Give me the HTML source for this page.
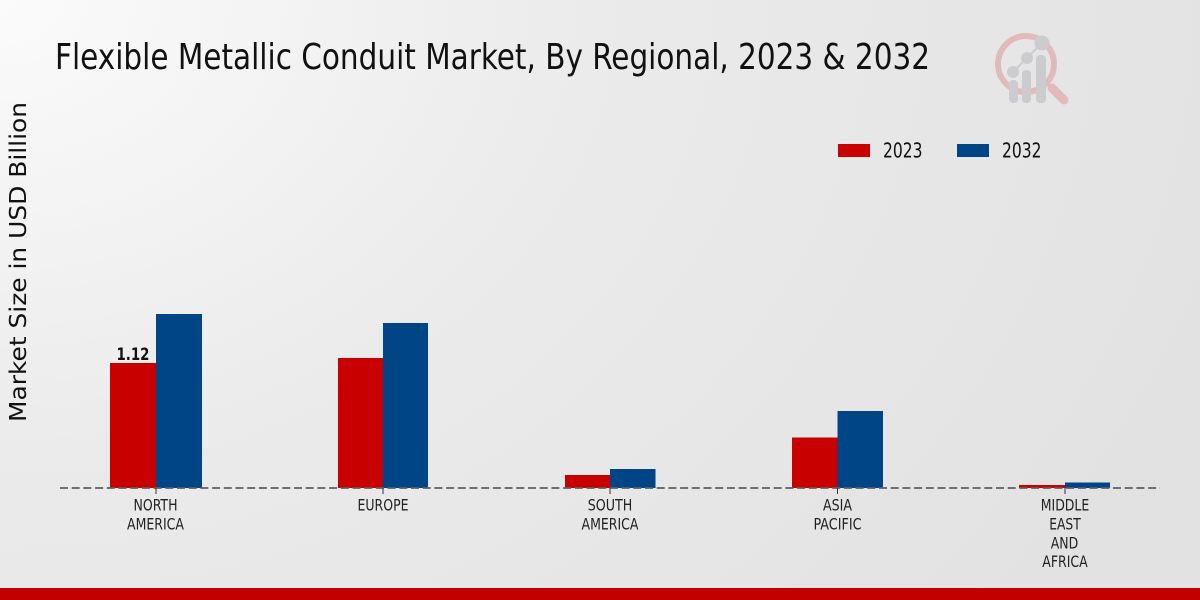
<!DOCTYPE html>
<html>
<head>
<meta charset="utf-8">
<style>
  html, body { margin: 0; padding: 0; }
  body { width: 1200px; height: 600px; overflow: hidden; }
  svg { display: block; }
  .c { font-family: "DejaVu Sans Condensed", "DejaVu Sans", "Liberation Sans", sans-serif; font-stretch: condensed; }
  .r { font-family: "DejaVu Sans", "Liberation Sans", sans-serif; }
</style>
</head>
<body>
<svg width="1200" height="600" viewBox="0 0 1200 600" xmlns="http://www.w3.org/2000/svg">
  <defs>
    <radialGradient id="bg" cx="0" cy="0" r="1" gradientUnits="userSpaceOnUse" gradientTransform="translate(0 0) scale(1300 1000)">
      <stop offset="0" stop-color="#fbfbfb"/>
      <stop offset="0.45" stop-color="#ebebeb"/>
      <stop offset="1" stop-color="#e2e2e2"/>
    </radialGradient>
  </defs>
  <rect x="0" y="0" width="1200" height="600" fill="url(#bg)"/>

  <!-- Title -->
  <text class="c" x="55" y="69" font-size="36" fill="#111" textLength="875" lengthAdjust="spacingAndGlyphs">Flexible Metallic Conduit Market, By Regional, 2023 &amp; 2032</text>

  <!-- Logo -->
  <g opacity="0.6">
    <circle cx="1026" cy="64" r="28" fill="none" stroke="#dfa0a0" stroke-width="6"/>
    <line x1="1052" y1="88" x2="1064" y2="100" stroke="#dfa0a0" stroke-width="9" stroke-linecap="round"/>
    <line x1="1013" y1="72" x2="1027" y2="58" stroke="#bdbdc2" stroke-width="2"/>
    <line x1="1027" y1="58" x2="1042" y2="43" stroke="#bdbdc2" stroke-width="2"/>
    <rect x="1009" y="80" width="9" height="23" rx="4" fill="#bdbdc2"/>
    <rect x="1022" y="70" width="9" height="33" rx="4" fill="#bdbdc2"/>
    <rect x="1036" y="55" width="10" height="48" rx="4" fill="#bdbdc2"/>
    <circle cx="1013" cy="72" r="6" fill="#bdbdc2"/>
    <circle cx="1027" cy="58" r="6" fill="#bdbdc2"/>
    <circle cx="1042" cy="43" r="7.5" fill="#bdbdc2"/>
  </g>

  <!-- Y axis label -->
  <text class="r" transform="translate(26 262) rotate(-90)" text-anchor="middle" font-size="23" fill="#111" textLength="320" lengthAdjust="spacingAndGlyphs">Market Size in USD Billion</text>

  <!-- Legend -->
  <rect x="838" y="144" width="32" height="13" fill="#c80000"/>
  <text class="c" x="883" y="157.5" font-size="20" fill="#111" textLength="39.5" lengthAdjust="spacingAndGlyphs">2023</text>
  <rect x="957" y="144" width="32" height="13" fill="#004586"/>
  <text class="c" x="1002" y="157.5" font-size="20" fill="#111" textLength="39.5" lengthAdjust="spacingAndGlyphs">2032</text>

  <!-- Bars -->
  <rect x="110" y="363" width="46" height="125" fill="#c80000"/>
  <rect x="156" y="314" width="46" height="174" fill="#004586"/>

  <rect x="338" y="358" width="45" height="130" fill="#c80000"/>
  <rect x="383" y="323" width="45" height="165" fill="#004586"/>

  <rect x="565" y="475" width="45" height="13" fill="#c80000"/>
  <rect x="610" y="469" width="45.5" height="19" fill="#004586"/>

  <rect x="792" y="437.5" width="45.5" height="50.5" fill="#c80000"/>
  <rect x="837.5" y="411" width="45.5" height="77" fill="#004586"/>

  <rect x="1019" y="485" width="46" height="3" fill="#c80000"/>
  <rect x="1065" y="482.5" width="45" height="5.5" fill="#004586"/>

  <!-- Data label -->
  <text class="c" x="133" y="360" font-size="17" font-weight="bold" fill="#111" text-anchor="middle" textLength="33" lengthAdjust="spacingAndGlyphs">1.12</text>

  <!-- Baseline -->
  <line x1="60" y1="488" x2="1160" y2="488" stroke="#5f5f5f" stroke-width="1.8" stroke-dasharray="8 3.7"/>

  <!-- Ticks -->
  <g stroke="#333" stroke-width="1">
    <line x1="156" y1="488" x2="156" y2="494"/>
    <line x1="383" y1="488" x2="383" y2="494"/>
    <line x1="610" y1="488" x2="610" y2="494"/>
    <line x1="837.5" y1="488" x2="837.5" y2="494"/>
    <line x1="1065" y1="488" x2="1065" y2="494"/>
  </g>

  <!-- X labels -->
  <g class="c" font-size="16" fill="#222" text-anchor="middle">
    <text x="155.5" y="510.5" textLength="44" lengthAdjust="spacingAndGlyphs">NORTH</text>
    <text x="155.5" y="529.5" textLength="57" lengthAdjust="spacingAndGlyphs">AMERICA</text>

    <text x="383" y="510.5" textLength="51" lengthAdjust="spacingAndGlyphs">EUROPE</text>

    <text x="610" y="510.5" textLength="44.5" lengthAdjust="spacingAndGlyphs">SOUTH</text>
    <text x="610" y="529.5" textLength="57" lengthAdjust="spacingAndGlyphs">AMERICA</text>

    <text x="837.5" y="510.5" textLength="29" lengthAdjust="spacingAndGlyphs">ASIA</text>
    <text x="837.5" y="529.5" textLength="48" lengthAdjust="spacingAndGlyphs">PACIFIC</text>

    <text x="1065" y="510.5" textLength="48.5" lengthAdjust="spacingAndGlyphs">MIDDLE</text>
    <text x="1065" y="529.5" textLength="31.5" lengthAdjust="spacingAndGlyphs">EAST</text>
    <text x="1064.5" y="548.5" textLength="27.5" lengthAdjust="spacingAndGlyphs">AND</text>
    <text x="1065" y="567" textLength="45.5" lengthAdjust="spacingAndGlyphs">AFRICA</text>
  </g>

  <!-- Bottom bar -->
  <rect x="0" y="588" width="1200" height="12" fill="#c20000"/>
</svg>
</body>
</html>
